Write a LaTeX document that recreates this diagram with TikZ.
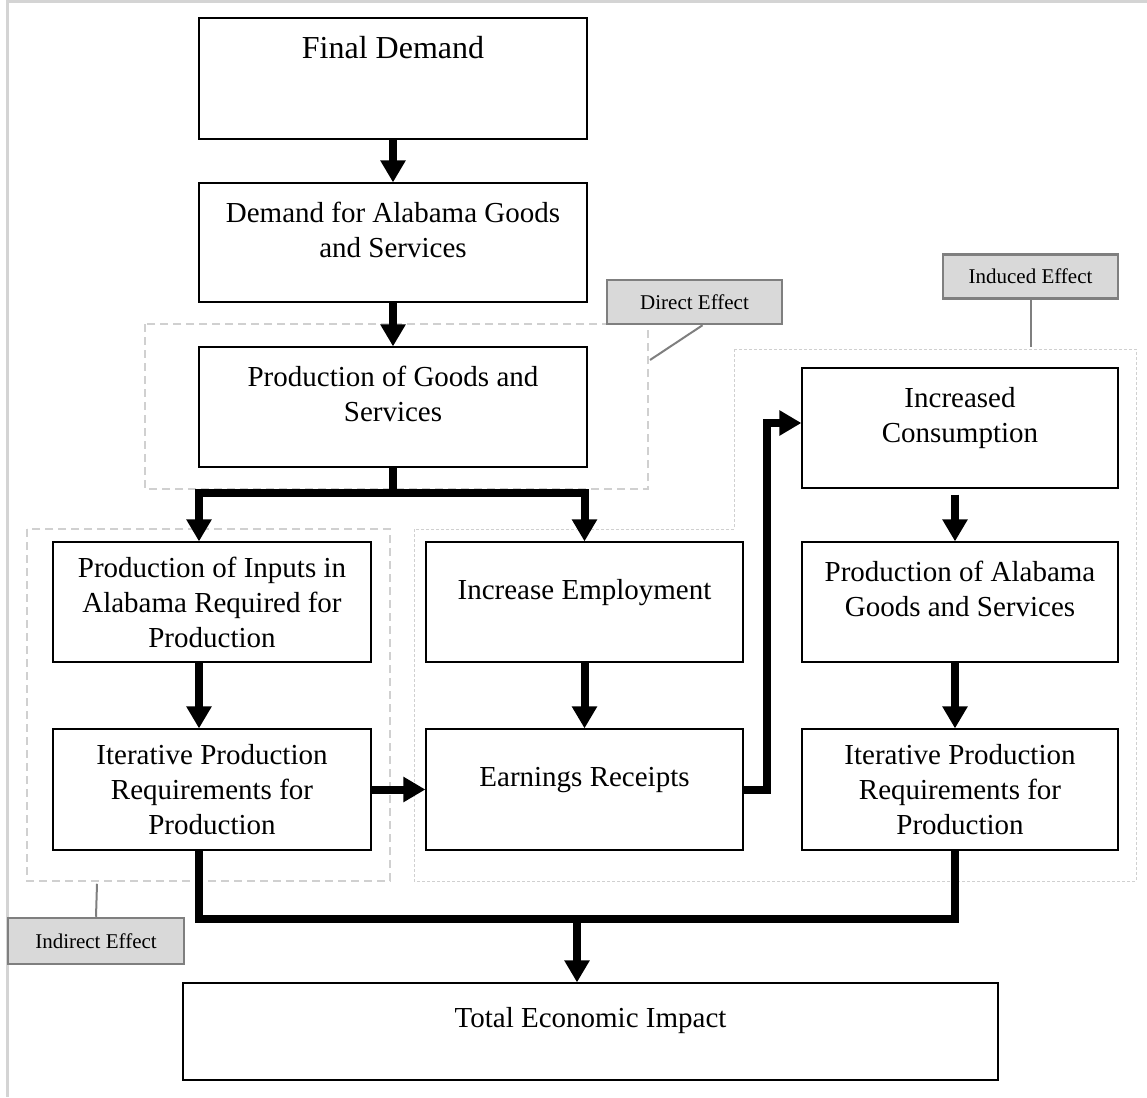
\documentclass[tikz,border=0pt]{standalone}
\usepackage{fontspec}
\setmainfont{Liberation Serif}
\usetikzlibrary{arrows.meta}
\definecolor{framegray}{HTML}{D4D4D4}
\definecolor{zonegray}{HTML}{D0D0D0}
\definecolor{tagfill}{HTML}{D9D9D9}
\definecolor{tagline}{HTML}{7F7F7F}
\newcommand{\lift}[1]{\rule[-#1]{0pt}{0pt}}
\begin{document}
\begin{tikzpicture}[x=1pt,y=-1pt,
   box/.style={draw,line width=1.2pt,inner sep=0pt,align=center,
     font=\fontsize{29}{35}\selectfont},
   tag/.style={draw=tagline,fill=tagfill,line width=2.5pt,inner sep=0pt,
     minimum width=175pt,minimum height=44pt,font=\fontsize{21}{25}\selectfont},
   bar/.style={line width=8pt},
   flow/.style={bar,-{Triangle[length=22pt,width=24pt]}},
   callout/.style={draw=tagline,line width=2pt}]
   \useasboundingbox (0,0) rectangle (1147,1097);
   \draw[framegray,line width=3pt] (1147,2) -- (7,2) -- (7,1097);

   \draw[zonegray,line width=2.5pt,dash pattern=on 8pt off 5pt] (145,324) rectangle (648,489);
   \draw[zonegray,line width=2.5pt,dash pattern=on 8pt off 5pt] (27,529) rectangle (390,881);
   \draw[zonegray,line width=1pt,dash pattern=on 3pt off 2pt]
     (734,349) -- (1136,349) -- (1136,881) -- (414,881) -- (414,529) -- (734,529) -- cycle;

   \node[box,minimum width=388pt,minimum height=121pt] (final) at (393,78.5)
     {\fontsize{32}{38}\selectfont Final Demand\lift{62pt}};
   \node[box,minimum width=388pt,minimum height=119pt] (demand) at (393,242.5)
     {Demand for Alabama Goods\\and Services\lift{26pt}};
   \node[box,minimum width=388pt,minimum height=120pt] (prod) at (393,407)
     {Production of Goods and\\Services\lift{26pt}};
   \node[box,minimum width=318pt,minimum height=120pt] (inputs) at (212,602)
     {Production of Inputs in\\Alabama Required for\\Production};
   \node[box,minimum width=317pt,minimum height=120pt] (employ) at (584.5,602)
     {Increase Employment\lift{26pt}};
   \node[box,minimum width=318pt,minimum height=121pt] (iterL) at (212,789.5)
     {Iterative Production\\Requirements for\\Production};
   \node[box,minimum width=317pt,minimum height=121pt] (earn) at (584.5,789.5)
     {Earnings Receipts\lift{26pt}};
   \node[box,minimum width=316pt,minimum height=120pt] (consume) at (960,428)
     {Increased\\Consumption\lift{26pt}};
   \node[box,minimum width=316pt,minimum height=120pt] (prodAL) at (960,602)
     {Production of Alabama\\Goods and Services\lift{26pt}};
   \node[box,minimum width=316pt,minimum height=121pt] (iterR) at (960,789.5)
     {Iterative Production\\Requirements for\\Production};
   \node[box,minimum width=815pt,minimum height=97pt] (total) at (590.5,1031.5)
     {Total Economic Impact\lift{28pt}};

   \node[tag] (direct) at (694.5,302) {Direct Effect};
   \node[tag] (induced) at (1030.5,276.5) {Induced Effect};
   \node[tag,minimum width=176pt,minimum height=46pt] (indirect) at (96,941) {Indirect Effect};
   \draw[callout] ([xshift=8pt]direct.south) -- (650,360);
   \draw[callout] (induced.south) -- ++(0,47);
   \draw[callout] (indirect.north) -- ++(1,-33);

   \draw[flow] (final) -- (demand);
   \draw[flow] (demand) -- (prod);
   \coordinate (split) at (393,493);
   \draw[bar] (prod.south) -- (split);
   \draw[flow] (split) -| ([xshift=-13pt]inputs.north);
   \draw[flow] (split) -| (employ.north);
   \draw[flow] ([xshift=-13pt]inputs.south) -- ([xshift=-13pt]iterL.north);
   \draw[flow] (employ) -- (earn);
   \draw[flow] (iterL) -- (earn);
   \draw[flow] (earn.east) -- ++(23,0) |- ([yshift=5pt]consume.west);
   \draw[flow] ([xshift=-5pt,yshift=-6pt]consume.south) -- ([xshift=-5pt]prodAL.north);
   \draw[flow] ([xshift=-5pt]prodAL.south) -- ([xshift=-5pt]iterR.north);
   \coordinate (merge) at (577,919);
   \draw[bar] ([xshift=-13pt]iterL.south) |- (merge) -| ([xshift=-5pt]iterR.south);
   \draw[flow] (merge) -- (merge |- total.north);
\end{tikzpicture}
\end{document}
